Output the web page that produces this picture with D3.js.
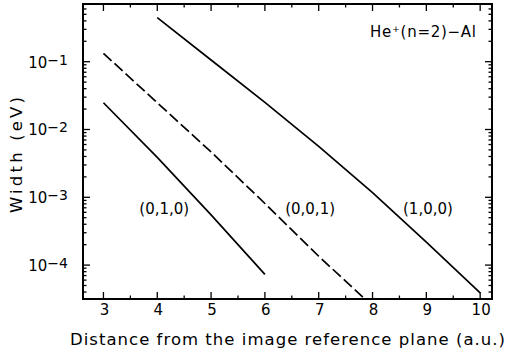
<!DOCTYPE html>
<html>
<head>
<meta charset="utf-8">
<script src="https://cdn.jsdelivr.net/npm/d3@7"></script>
<style>
  html, body { margin: 0; padding: 0; background: #fff; }
  svg { display: block; }
  text { font-family: "DejaVu Sans", "Liberation Sans", sans-serif; fill: #000; }
</style>
</head>
<body>
<svg id="chart" width="507" height="358"></svg>
<script>
// Distance from the image reference plane (a.u.)
const distance100 = [4, 5, 6, 7, 8, 9, 10];
const width100    = [0.447, 0.106, 0.0251, 0.00562, 0.00117, 0.000219, 0.000039];

const distance001 = [3, 4, 5, 6, 7, 7.85];
const width001    = [0.133, 0.0248, 0.00466, 0.00081, 0.000135, 0.000032];

const distance010 = [3, 4, 5, 6];
const width010    = [0.0248, 0.00389, 0.00055, 0.000073];

const xTicks = [3, 4, 5, 6, 7, 8, 9, 10];
const yTickExponents = [-1, -2, -3, -4];

const seriesLabels = ["(0,1,0)", "(0,0,1)", "(1,0,0)"];
const titleText = "He⁺(n=2)−Al";
const xTitle = "Distance from the image reference plane  (a.u.)";
const yTitle = "Width  (eV)";

const svg = d3.select("#chart");
const plotL = 83, plotR = 492, plotT = 4, plotB = 299;

const x = d3.scaleLinear().domain([2.62, 10.22]).range([plotL, plotR]);
const y = d3.scaleLog().domain([3.16e-5, 0.71]).range([plotB, plotT]);

svg.append("defs").append("clipPath").attr("id", "plotClip")
  .append("rect").attr("x", plotL).attr("y", plotT)
  .attr("width", plotR - plotL).attr("height", plotB - plotT);

// tick marks drawn inward on all four sides
const xMinor = d3.range(2.5, 10.5, 0.5).filter(v => v > 2.62 && v < 10.22 && !xTicks.includes(v));
const yMinor = [];
for (let e = -5; e <= 0; e++) {
  for (let m = 2; m <= 9; m++) {
    const v = m * Math.pow(10, e);
    if (v > 3.16e-5 && v < 0.71) yMinor.push(v);
  }
}
const yMajor = yTickExponents.map(e => Math.pow(10, e));

const ticks = svg.append("g").attr("stroke", "#000").attr("stroke-width", 1.3);
xTicks.forEach(v => {
  ticks.append("line").attr("x1", x(v)).attr("x2", x(v)).attr("y1", plotB).attr("y2", plotB - 7);
  ticks.append("line").attr("x1", x(v)).attr("x2", x(v)).attr("y1", plotT).attr("y2", plotT + 7);
});
xMinor.forEach(v => {
  ticks.append("line").attr("x1", x(v)).attr("x2", x(v)).attr("y1", plotB).attr("y2", plotB - 3.5);
  ticks.append("line").attr("x1", x(v)).attr("x2", x(v)).attr("y1", plotT).attr("y2", plotT + 3.5);
});
yMajor.forEach(v => {
  ticks.append("line").attr("x1", plotL).attr("x2", plotL + 7).attr("y1", y(v)).attr("y2", y(v));
  ticks.append("line").attr("x1", plotR).attr("x2", plotR - 7).attr("y1", y(v)).attr("y2", y(v));
});
yMinor.forEach(v => {
  ticks.append("line").attr("x1", plotL).attr("x2", plotL + 3.5).attr("y1", y(v)).attr("y2", y(v));
  ticks.append("line").attr("x1", plotR).attr("x2", plotR - 3.5).attr("y1", y(v)).attr("y2", y(v));
});

// frame
svg.append("rect").attr("x", plotL).attr("y", plotT)
  .attr("width", plotR - plotL).attr("height", plotB - plotT)
  .attr("fill", "none").attr("stroke", "#000").attr("stroke-width", 2);

// x tick labels
svg.append("g").selectAll("text").data(xTicks).join("text")
  .attr("x", d => x(d) + 1).attr("y", plotB + 16)
  .attr("text-anchor", "middle").attr("font-size", 15)
  .text(d => d);

// y tick labels 10^n
const yl = svg.append("g").selectAll("text").data(yTickExponents).join("text")
  .attr("x", plotL - 15).attr("y", d => y(Math.pow(10, d)) + 6)
  .attr("text-anchor", "end").attr("font-size", 15);
yl.append("tspan").text("10");
yl.append("tspan").attr("dy", -3).attr("font-size", 14).text(d => "−" + Math.abs(d));

// axis titles
svg.append("text").attr("x", 70).attr("y", 345)
  .attr("font-size", 16.5).attr("textLength", 435).attr("lengthAdjust", "spacing")
  .text(xTitle);
svg.append("text").attr("transform", "translate(22,155) rotate(-90)")
  .attr("x", -58).attr("font-size", 16.5)
  .attr("textLength", 116).attr("lengthAdjust", "spacing").text(yTitle);

// curves
const line = d3.line().x(d => x(d[0])).y(d => y(d[1]));
const curves = svg.append("g").attr("clip-path", "url(#plotClip)")
  .attr("fill", "none").attr("stroke", "#000").attr("stroke-width", 1.7);
curves.append("path").attr("d", line(d3.zip(distance100, width100)));
curves.append("path").attr("d", line(d3.zip(distance001, width001)))
  .attr("stroke-dasharray", "11,4");
curves.append("path").attr("d", line(d3.zip(distance010, width010)));

// curve labels
const labelPos = [[4.13, 0.00056], [6.84, 0.00056], [9.03, 0.00056]];
svg.append("g").selectAll("text").data(seriesLabels).join("text")
  .attr("x", (d, i) => x(labelPos[i][0])).attr("y", (d, i) => y(labelPos[i][1]))
  .attr("text-anchor", "middle").attr("font-size", 15).text(d => d);

// system label
svg.append("text").attr("x", 370).attr("y", 37)
  .attr("font-size", 15).attr("textLength", 106).attr("lengthAdjust", "spacing")
  .text(titleText);
</script>
</body>
</html>
